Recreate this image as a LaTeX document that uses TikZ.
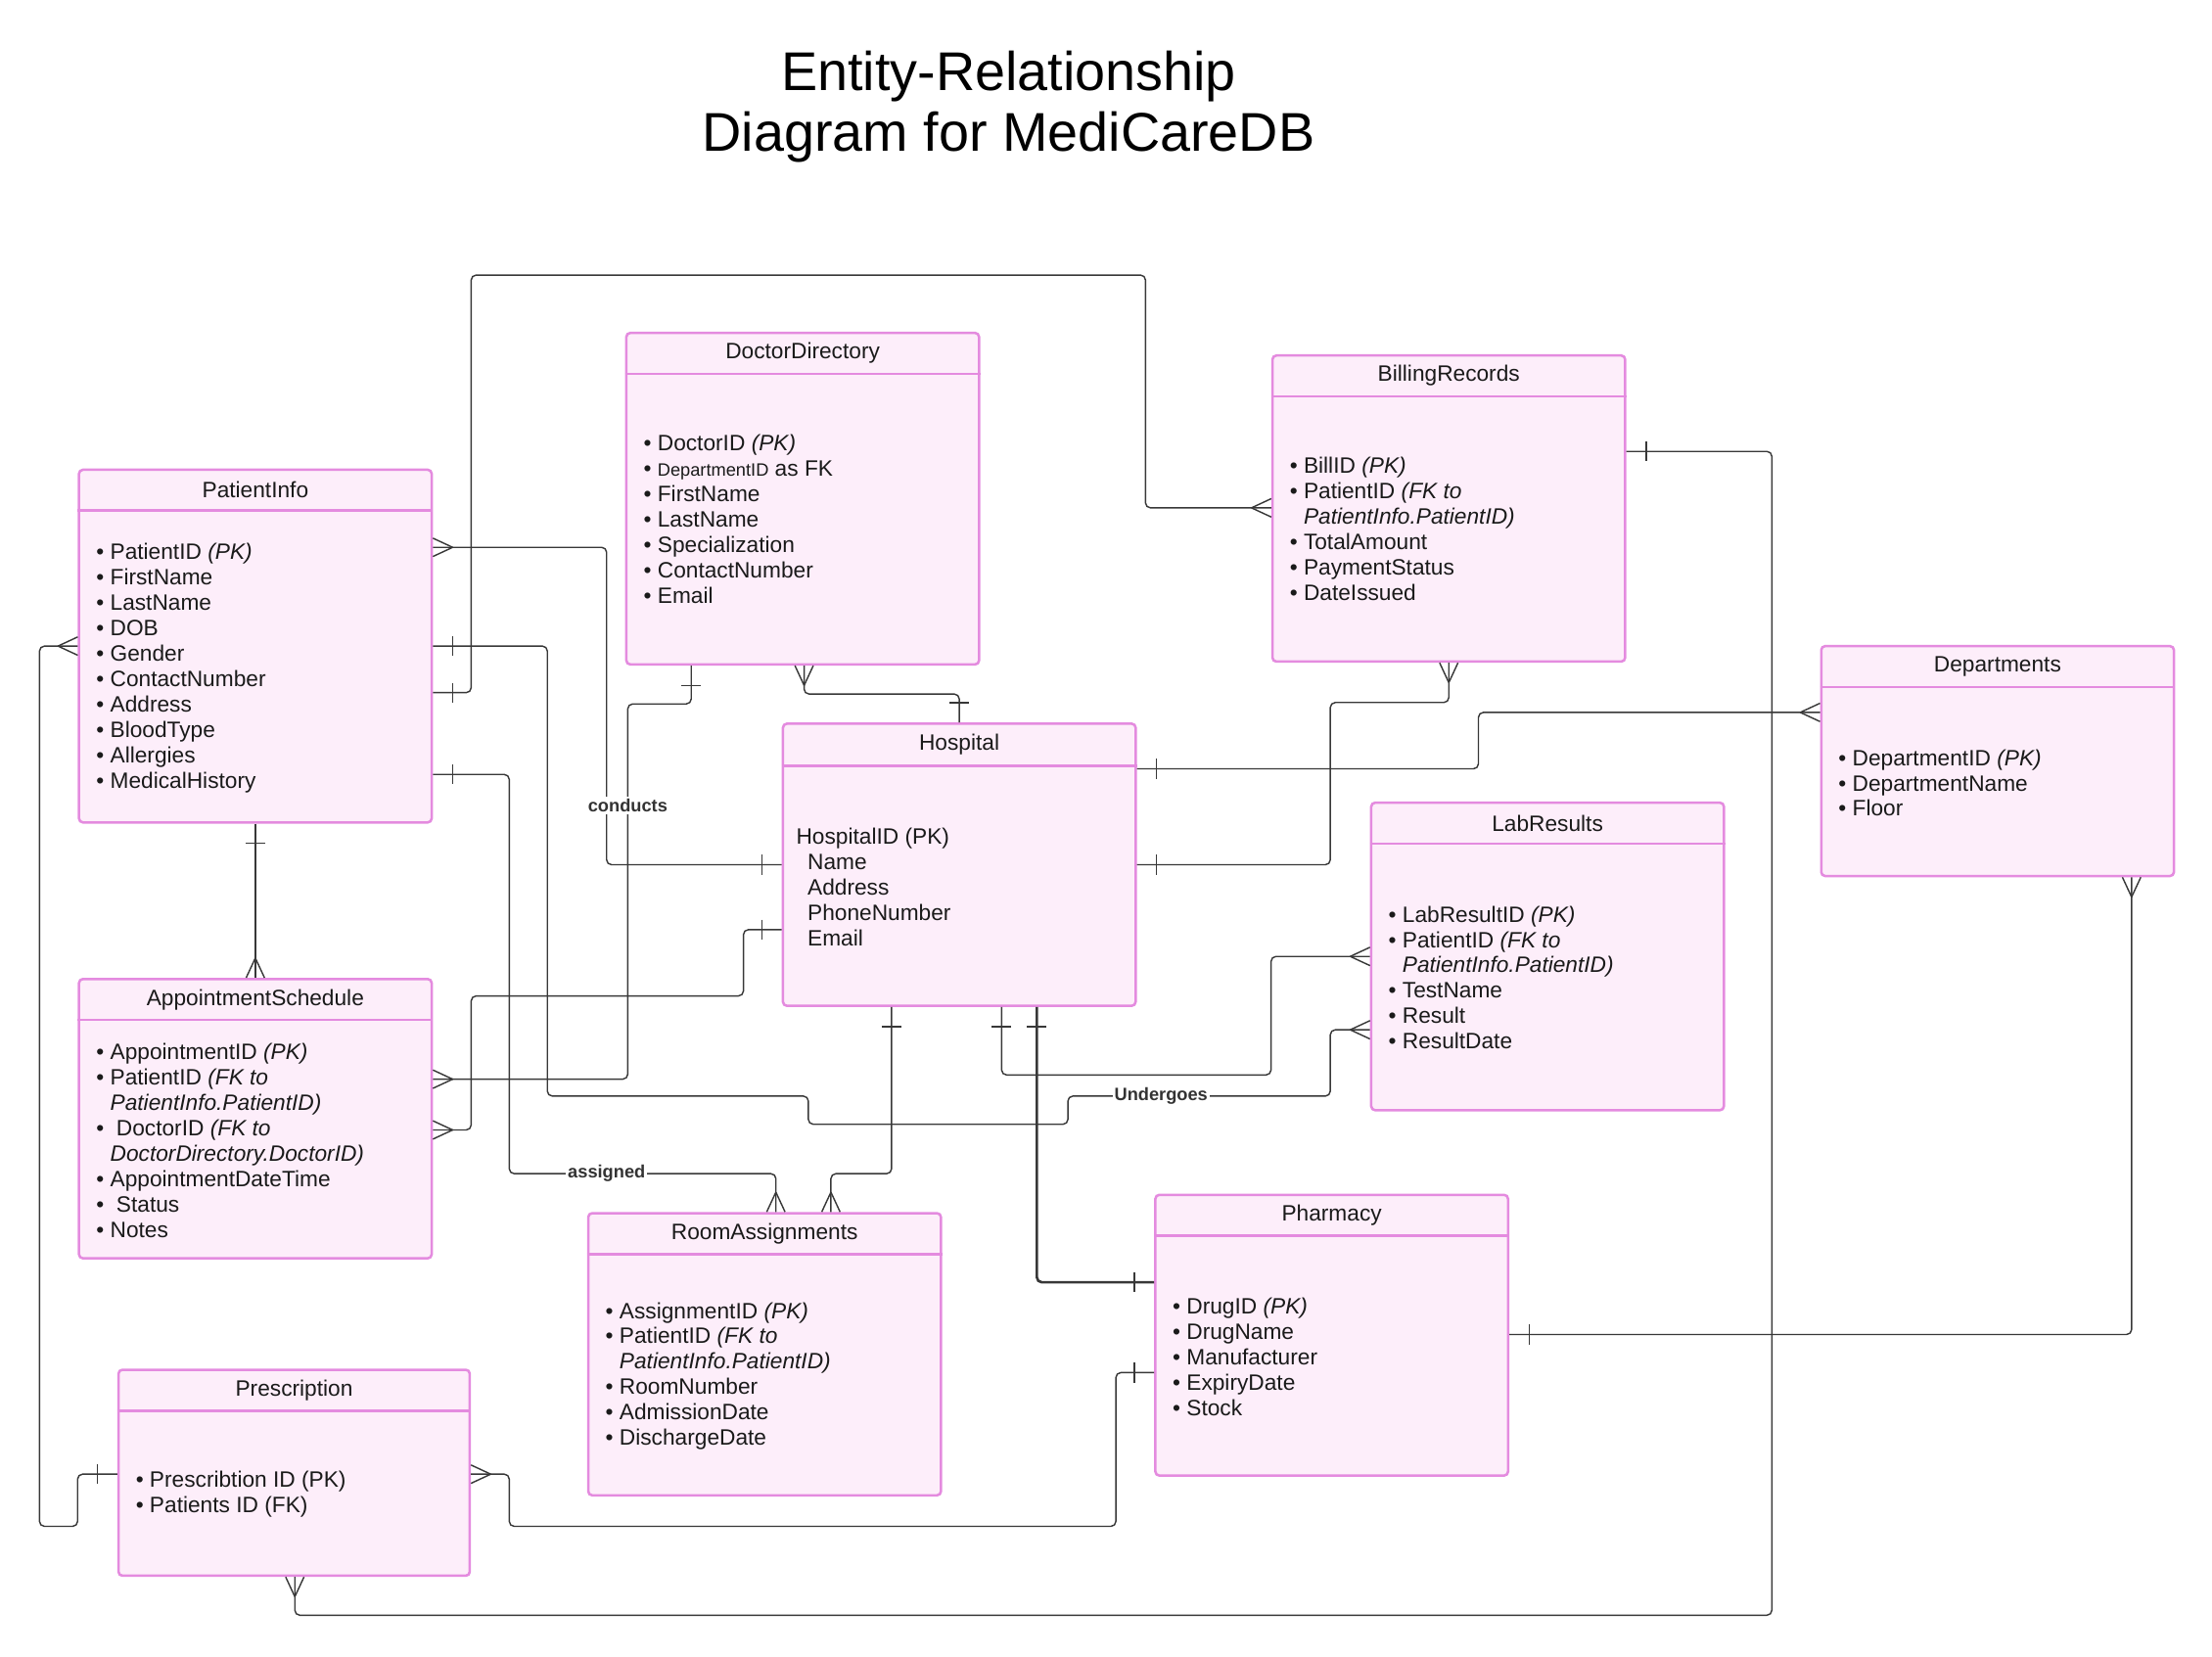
\documentclass[tikz,border=0pt]{standalone}
\usepackage{fontspec}
\setmainfont{Liberation Sans}
\usetikzlibrary{fit,calc}
\definecolor{boxfill}{HTML}{FDEEFA}
\definecolor{boxborder}{HTML}{E48BDF}
\definecolor{txt}{HTML}{1A1A1A}
\definecolor{lin}{HTML}{383838}
\definecolor{lbl}{HTML}{333333}
\newcommand\bl{\textbullet\ }
\newcommand\ind{\phantom{\textbullet\ }}
\tikzset{
  entity/.style={draw=boxborder, fill=boxfill, line width=1.25pt, rounded corners=2pt, inner sep=0pt},
  divline/.style={draw=boxborder, line width=1.25pt},
  hdr/.style={font=\fontsize{11.2}{13}\selectfont, text=txt, inner sep=0pt},
  body/.style={font=\fontsize{11.2}{12.8}\selectfont, text=txt, align=left, inner sep=0pt, anchor=west},
  conn/.style={draw=lin, rounded corners=2.5pt},
  mk/.style={draw=lin},
  rel/.style={font=\bfseries\fontsize{9}{10}\selectfont, text=lbl, fill=white, inner sep=1pt},
  ttl/.style={font=\fontsize{27.5}{31}\selectfont, text=black, inner sep=0pt, anchor=base},
  crowE/.pic={\draw[mk] (14,0) -- (0,-6.5) (14,0) -- (0,6.5);},
  crowW/.pic={\draw[mk] (-14,0) -- (0,-6.5) (-14,0) -- (0,6.5);},
  crowS/.pic={\draw[mk] (0,14) -- (-6.5,0) (0,14) -- (6.5,0);},
  crowN/.pic={\draw[mk] (0,-14) -- (-6.5,0) (0,-14) -- (6.5,0);},
  barE/.pic={\draw[mk] (14,-7) -- (14,7);},
  barW/.pic={\draw[mk] (-14,-7) -- (-14,7);},
  barS/.pic={\draw[mk] (-7,14) -- (7,14);},
  barN/.pic={\draw[mk] (-7,-14) -- (7,-14);},
}
\begin{document}
\begin{tikzpicture}[x=0.025cm, y=-0.025cm, line width=0.7pt]
\fill[white] (0,0) rectangle (1568,1174);
\useasboundingbox (0,0) rectangle (1568,1174);

% Title
\node[ttl] (t1) at (715,64) {Entity-Relationship};
\node[ttl] (t2) at (715,107) {Diagram for MediCareDB};

% DoctorDirectory
\node[entity, fit={(444,236) (694,471)}] (dd) {};
\draw[divline] (dd.west |- 0,265) -- (dd.east |- 0,265);
\node[hdr] (dd-h) at (dd.north |- 0,250.5) {DoctorDirectory};
\node[body, xshift=9pt] (dd-b) at (dd.west |- 0,368) {\bl DoctorID \textit{(PK)}\\
\bl{\fontsize{9}{10}\selectfont DepartmentID} as FK\\
\bl FirstName\\ \bl LastName\\ \bl Specialization\\ \bl ContactNumber\\ \bl Email};

% BillingRecords
\node[entity, fit={(902,252) (1152,469)}] (br) {};
\draw[divline] (br.west |- 0,281) -- (br.east |- 0,281);
\node[hdr] (br-h) at (br.north |- 0,266.5) {BillingRecords};
\node[body, xshift=9pt] (br-b) at (br.west |- 0,375) {\bl BillID \textit{(PK)}\\
\bl PatientID \textit{(FK to}\\ \ind\textit{PatientInfo.PatientID)}\\
\bl TotalAmount\\ \bl PaymentStatus\\ \bl DateIssued};

% PatientInfo
\node[entity, fit={(56,333) (306,583)}] (pi) {};
\draw[divline] (pi.west |- 0,362) -- (pi.east |- 0,362);
\node[hdr] (pi-h) at (pi.north |- 0,347.5) {PatientInfo};
\node[body, xshift=9pt] (pi-b) at (pi.west |- 0,473.5) {\bl PatientID \textit{(PK)}\\
\bl FirstName\\ \bl LastName\\ \bl DOB\\ \bl Gender\\ \bl ContactNumber\\
\bl Address\\ \bl BloodType\\ \bl Allergies\\ \bl MedicalHistory};

% Departments
\node[entity, fit={(1291,458) (1541,621)}] (dep) {};
\draw[divline] (dep.west |- 0,487) -- (dep.east |- 0,487);
\node[hdr] (dep-h) at (dep.north |- 0,472.5) {Departments};
\node[body, xshift=9pt] (dep-b) at (dep.west |- 0,555) {\bl DepartmentID \textit{(PK)}\\
\bl DepartmentName\\ \bl Floor};

% Hospital
\node[entity, fit={(555,513) (805,713)}] (hos) {};
\draw[divline] (hos.west |- 0,543) -- (hos.east |- 0,543);
\node[hdr] (hos-h) at (hos.north |- 0,528) {Hospital};
\node[body, xshift=7pt] (hos-b) at (hos.west |- 0,629) {HospitalID (PK)\\
\hspace*{5.7pt}Name\\ \hspace*{5.7pt}Address\\ \hspace*{5.7pt}PhoneNumber\\ \hspace*{5.7pt}Email};

% LabResults
\node[entity, fit={(972,569) (1222,787)}] (lab) {};
\draw[divline] (lab.west |- 0,598) -- (lab.east |- 0,598);
\node[hdr] (lab-h) at (lab.north |- 0,583.5) {LabResults};
\node[body, xshift=9pt] (lab-b) at (lab.west |- 0,693) {\bl LabResultID \textit{(PK)}\\
\bl PatientID \textit{(FK to}\\ \ind\textit{PatientInfo.PatientID)}\\
\bl TestName\\ \bl Result\\ \bl ResultDate};

% AppointmentSchedule
\node[entity, fit={(56,694) (306,892)}] (app) {};
\draw[divline] (app.west |- 0,723) -- (app.east |- 0,723);
\node[hdr] (app-h) at (app.north |- 0,708.5) {AppointmentSchedule};
\node[body, xshift=9pt] (app-b) at (app.west |- 0,808.5) {\bl AppointmentID \textit{(PK)}\\
\bl PatientID \textit{(FK to}\\ \ind\textit{PatientInfo.PatientID)}\\
\bl\ DoctorID \textit{(FK to}\\ \ind\textit{DoctorDirectory.DoctorID)}\\
\bl AppointmentDateTime\\ \bl\ Status\\ \bl Notes};

% Pharmacy
\node[entity, fit={(819,847) (1069,1046)}] (ph) {};
\draw[divline] (ph.west |- 0,876) -- (ph.east |- 0,876);
\node[hdr] (ph-h) at (ph.north |- 0,861.5) {Pharmacy};
\node[body, xshift=9pt] (ph-b) at (ph.west |- 0,962) {\bl DrugID \textit{(PK)}\\
\bl DrugName\\ \bl Manufacturer\\ \bl ExpiryDate\\ \bl Stock};

% RoomAssignments
\node[entity, fit={(417,860) (667,1060)}] (ra) {};
\draw[divline] (ra.west |- 0,889) -- (ra.east |- 0,889);
\node[hdr] (ra-h) at (ra.north |- 0,874.5) {RoomAssignments};
\node[body, xshift=9pt] (ra-b) at (ra.west |- 0,975.5) {\bl AssignmentID \textit{(PK)}\\
\bl PatientID \textit{(FK to}\\ \ind\textit{PatientInfo.PatientID)}\\
\bl RoomNumber\\ \bl AdmissionDate\\ \bl DischargeDate};

% Prescription
\node[entity, fit={(84,971) (333,1117)}] (pr) {};
\draw[divline] (pr.west |- 0,1000) -- (pr.east |- 0,1000);
\node[hdr] (pr-h) at (pr.north |- 0,985.5) {Prescription};
\node[body, xshift=9pt] (pr-b) at (pr.west |- 0,1059.5) {\bl Prescribtion ID (PK)\\
\bl Patients ID (FK)};

% ---------- Connectors ----------
% C1 PatientInfo -- Hospital
\draw[conn] (pi.east |- 0,388) -- (430,388) -- (430,613) -- (hos.west |- 0,613);
\pic at (pi.east |- 0,388) {crowE};
\pic at (hos.west |- 0,613) {barW};
% C2 PatientInfo -- LabResults (Undergoes)
\draw[conn] (pi.east |- 0,458) -- (388,458) -- (388,777) -- (573,777) -- (573,797) -- (757,797) -- (757,777) -- (943,777) -- (943,730) -- (lab.west |- 0,730);
\pic at (pi.east |- 0,458) {barE};
\pic at (lab.west |- 0,730) {crowW};
% C3 PatientInfo -- BillingRecords
\draw[conn] (pi.east |- 0,491) -- (334,491) -- (334,195) -- (812,195) -- (812,360) -- (br.west |- 0,360);
\pic at (pi.east |- 0,491) {barE};
\pic at (br.west |- 0,360) {crowW};
% C4 PatientInfo -- RoomAssignments (assigned)
\draw[conn] (pi.east |- 0,549) -- (361,549) -- (361,832) -- (550,832) -- (ra.north -| 550,0);
\pic at (pi.east |- 0,549) {barE};
\pic at (ra.north -| 550,0) {crowN};
% C5 PatientInfo -- Prescription
\draw[conn] (pi.west |- 0,458) -- (28,458) -- (28,1082) -- (55,1082) -- (55,1045) -- (pr.west |- 0,1045);
\pic at (pi.west |- 0,458) {crowW};
\pic at (pr.west |- 0,1045) {barW};
% C6 PatientInfo -- AppointmentSchedule
\draw[conn] (pi.south) -- (app.north);
\pic at (pi.south) {barS};
\pic at (app.north) {crowN};
% C7 DoctorDirectory -- AppointmentSchedule (conducts)
\draw[conn] (dd.south -| 490,0) -- (490,499) -- (445,499) -- (445,765) -- (app.east |- 0,765);
\pic at (dd.south -| 490,0) {barS};
\pic at (app.east |- 0,765) {crowE};
% C8 DoctorDirectory -- Hospital
\draw[conn] (dd.south -| 570,0) -- (570,492) -- (680,492) -- (hos.north);
\pic at (dd.south -| 570,0) {crowS};
\pic at (hos.north) {barN};
% C9 Hospital -- AppointmentSchedule
\draw[conn] (hos.west |- 0,659) -- (527,659) -- (527,706) -- (334,706) -- (334,801) -- (app.east |- 0,801);
\pic at (hos.west |- 0,659) {barW};
\pic at (app.east |- 0,801) {crowE};
% C10 Hospital -- Departments
\draw[conn] (hos.east |- 0,545) -- (1048,545) -- (1048,505) -- (dep.west |- 0,505);
\pic at (hos.east |- 0,545) {barE};
\pic at (dep.west |- 0,505) {crowW};
% C11 Hospital -- BillingRecords
\draw[conn] (hos.east |- 0,613) -- (943,613) -- (943,498) -- (1027,498) -- (br.south -| 1027,0);
\pic at (hos.east |- 0,613) {barE};
\pic at (br.south -| 1027,0) {crowS};
% C12 Hospital -- RoomAssignments
\draw[conn] (hos.south -| 632,0) -- (632,832) -- (589,832) -- (ra.north -| 589,0);
\pic at (hos.south -| 632,0) {barS};
\pic at (ra.north -| 589,0) {crowN};
% C13 Hospital -- LabResults
\draw[conn] (hos.south -| 710,0) -- (710,762) -- (901,762) -- (901,678) -- (lab.west |- 0,678);
\pic at (hos.south -| 710,0) {barS};
\pic at (lab.west |- 0,678) {crowW};
% C14 Hospital -- Pharmacy
\draw[conn, line width=1.3pt] (hos.south -| 735,0) -- (735,909) -- (ph.west |- 0,909);
\pic[line width=1.3pt] at (hos.south -| 735,0) {barS};
\pic[line width=1.3pt] at (ph.west |- 0,909) {barW};
% C15 BillingRecords -- Prescription
\draw[conn] (br.east |- 0,320) -- (1256,320) -- (1256,1145) -- (209,1145) -- (pr.south -| 209,0);
\pic at (br.east |- 0,320) {barE};
\pic at (pr.south -| 209,0) {crowS};
% C16 Departments -- Pharmacy
\draw[conn] (dep.south -| 1511,0) -- (1511,946) -- (ph.east |- 0,946);
\pic at (dep.south -| 1511,0) {crowS};
\pic at (ph.east |- 0,946) {barE};
% C17 Prescription -- Pharmacy
\draw[conn] (pr.east |- 0,1045) -- (361,1045) -- (361,1082) -- (791,1082) -- (791,973) -- (ph.west |- 0,973);
\pic at (pr.east |- 0,1045) {crowE};
\pic at (ph.west |- 0,973) {barW};

% Relationship labels
\node[rel] (l-conducts) at (445,571) {conducts};
\node[rel] (l-undergoes) at (823,777) {Undergoes};
\node[rel] (l-assigned) at (430,832) {assigned};
\end{tikzpicture}
\end{document}
